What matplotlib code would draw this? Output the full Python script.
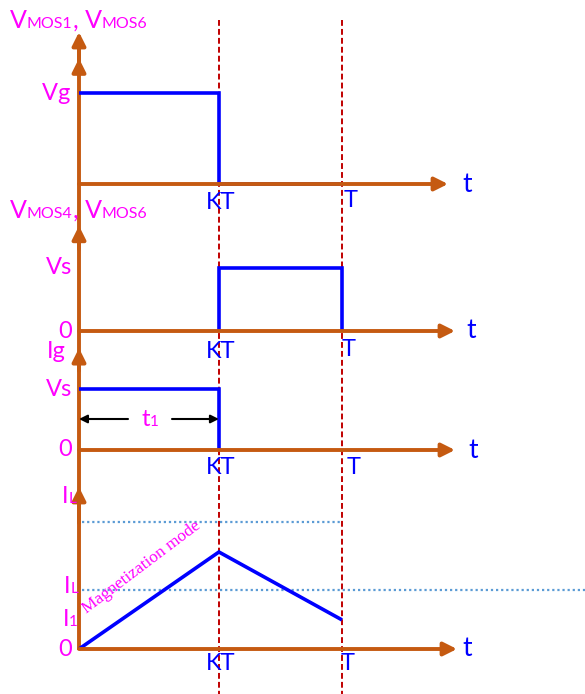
import matplotlib
matplotlib.use("Agg")
import matplotlib.pyplot as plt
from matplotlib.offsetbox import TextArea, HPacker, AnnotationBbox

# time axis: 0 = start of period, K = switching instant KT, 1 = period T
K = 0.532

# V_MOS1, V_MOS6
vmos1_t = [0, K, K, 1]
vmos1_v = [1, 1, 0, 0]
# V_MOS4, V_MOS6
vmos4_t = [K, K, 1, 1]
vmos4_v = [0, 1, 1, 0]
# Ig
ig_t = [0, K, K]
ig_v = [1, 1, 0]
# inductor current
il_t = [0, K, 1]
il_v = [0, 1.0, 0.30]
il_max = 1.31
il_avg = 0.61
il_1 = 0.30

ORANGE = '#C55A11'
BLUE = '#0000FF'
PINK = '#FF00FF'
RED = '#C00000'
DOT = '#5B9BD5'
FONT = 'Lato'

W, H = 585, 694
X0, XT = 79, 342          # pixel columns of t=0 and t=T


def px2t(px):
    return (px - X0) / (XT - X0)


fig = plt.figure(figsize=(W / 100, H / 100), dpi=100)

# overlay in pixel rows for the shared lines
bg = fig.add_axes([0, 0, 1, 1])
bg.axis('off')
bg.set_xlim(px2t(0), px2t(W))
bg.set_ylim(H, 0)
for tx in (K, 1):
    bg.plot([tx, tx], [20, H], color=RED, lw=1.4, ls=(0, (3, 1.6)))
bg.plot([0, 0], [650, 40], color=ORANGE, lw=2.8, solid_capstyle='butt')


def panel(base, top):
    ax = fig.add_axes([0, 0, 1, 1])
    ax.axis('off')
    ax.set_xlim(px2t(0), px2t(W))
    ax.set_ylim((base - H) / (base - top), base / (base - top))
    return ax


def arrow(ax, start, end, color=ORANGE, lw=2.8, ms=20):
    ax.annotate('', xy=end, xytext=start,
                arrowprops=dict(arrowstyle='-|>', color=color, lw=lw,
                                mutation_scale=ms, shrinkA=0, shrinkB=0))


def rich(ax, xy, parts, align=(1, 0.5)):
    boxes = [TextArea(s, textprops=dict(color=PINK, fontsize=fs, family=FONT))
             for s, fs in parts]
    pack = HPacker(children=boxes, align='baseline', pad=0, sep=0)
    ab = AnnotationBbox(pack, xy, xycoords='data', box_alignment=align,
                        frameon=False, pad=0)
    ax.add_artist(ab)


def left_label(ax, y, s):
    ax.text(px2t(72), y, s, color=PINK, fontsize=17, family=FONT,
            ha='right', va='center')


def time_labels(ax, kt_dy, t_dx, t_dy, tend):
    ax.annotate('KT', xy=(K, 0), xytext=(1, -kt_dy), textcoords='offset points',
                ha='center', va='top', color=BLUE, fontsize=17, family=FONT)
    ax.annotate('T', xy=(1, 0), xytext=(t_dx, -t_dy), textcoords='offset points',
                ha='left', va='top', color=BLUE, fontsize=17, family=FONT)
    ax.text(px2t(tend), 0, 't', color=BLUE, fontsize=19, family=FONT,
            ha='center', va='center')


def axes_arrows(ax, xend):
    arrow(ax, (0, 0), (px2t(xend), 0))
    arrow(ax, (0, 1.3), (0, 1.67))


blue = dict(color=BLUE, lw=2.6, solid_joinstyle='miter', solid_capstyle='butt')

# panel 1
ax1 = panel(184, 93)
axes_arrows(ax1, 448)
arrow(ax1, (0, 1.2), (0, 1.38))
ax1.plot(vmos1_t, vmos1_v, **blue)
rich(ax1, (px2t(70), 1), [('V', 17), ('g', 17)])
time_labels(ax1, 6, 1, 4, 467)

# panel 2
ax2 = panel(331, 268)
axes_arrows(ax2, 455)
ax2.plot(vmos4_t, vmos4_v, **blue)
left_label(ax2, 1, 'Vs')
left_label(ax2, 0, '0')
time_labels(ax2, 7, 0, 6, 471)

# panel 3
ax3 = panel(450, 389)
axes_arrows(ax3, 455)
ax3.plot(ig_t, ig_v, **blue)
left_label(ax3, 1, 'Vs')
left_label(ax3, 0, '0')
rich(ax3, (px2t(66), 1.62), [('Ig', 17)])
ly = (450 - 419) / 61
arrow(ax3, (px2t(128), ly), (0, ly), color='black', lw=1.5, ms=12)
arrow(ax3, (px2t(172), ly), (K, ly), color='black', lw=1.5, ms=12)
rich(ax3, (px2t(150), ly), [('t', 17), ('1', 11)], align=(0.5, 0.5))
time_labels(ax3, 5, 3, 5, 473)

# panel 4
ax4 = panel(649, 552)
axes_arrows(ax4, 457)
ax4.plot([px2t(82), 1], [il_max, il_max], color=DOT, lw=1.6, ls=(0, (1, 1.3)))
ax4.plot([px2t(82), px2t(W)], [il_avg, il_avg], color=DOT, lw=1.6, ls=(0, (1, 1.3)))
ax4.plot(il_t, il_v, **blue)
rich(ax4, (px2t(76), 1.57), [('I', 17), ('L', 11)])
rich(ax4, (px2t(78), il_avg + 0.03), [('I', 17), ('L', 11)])
rich(ax4, (px2t(78), il_1), [('I', 17), ('1', 11)])
left_label(ax4, 0, '0')
ax4.text(px2t(142), 0.84, 'Magnetization mode', color=PINK, fontsize=12.5,
         family='Liberation Serif', rotation=37, rotation_mode='anchor',
         ha='center', va='center')
time_labels(ax4, 3, -1, 3, 467)

# titles
rich(bg, (px2t(10), 20), [('V', 18), ('MOS1', 11.5), (', V', 18), ('MOS6', 11.5)], align=(0, 0.5))
rich(bg, (px2t(10), 210), [('V', 18), ('MOS4', 11.5), (', V', 18), ('MOS6', 11.5)], align=(0, 0.5))

fig.savefig('out.png', dpi=100)
